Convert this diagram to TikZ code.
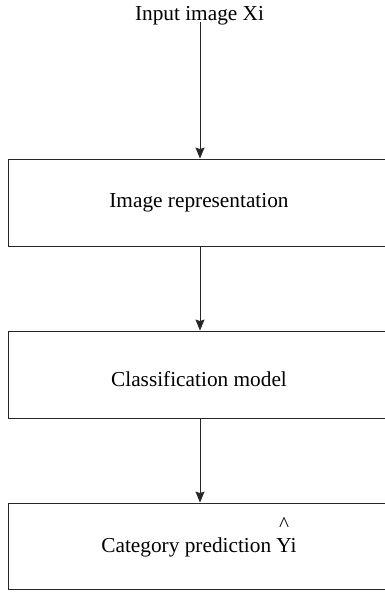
\documentclass[tikz,border=0pt]{standalone}
\usepackage{fontspec}
\setmainfont{Liberation Serif}
\usetikzlibrary{arrows.meta}
\begin{document}
\begin{tikzpicture}[x=1pt,y=-1pt,
  stagebox/.style={draw=black!85,line width=0.9pt,minimum width=382pt,
    inner sep=0pt,text height=0.7em,text depth=0.2em,
    font=\fontsize{21.3}{25}\selectfont},
  flow/.style={draw=black!85,line width=0.9pt,
    -{Stealth[length=11pt,width=9pt,inset=1.5pt]}},
  caption/.style={inner sep=0pt,font=\fontsize{21.3}{25}\selectfont}]
  \useasboundingbox (0,0) rectangle (385,594);
  \begin{scope}
    \clip (0,0) rectangle (385,594);
    % input label
    \node[caption,anchor=base] (in) at (199.5,21) {Input image Xi};
    % processing stages
    \node[stagebox,minimum height=87pt] (rep) at (199,202.5)
      {\raisebox{-2pt}{Image representation}};
    \node[stagebox,minimum height=87pt] (cls) at (199,374.5)
      {\raisebox{-9pt}{Classification model}};
    \node[stagebox,minimum height=86pt] (out) at (199,546)
      {\raisebox{-4pt}{Category prediction
        {\rlap{\raisebox{1.0em}{\kern0.13em\textasciicircum}}Y}i}};
    % connectors
    \coordinate (start) at (200,22);
    \draw[flow] (start) -- (start |- rep.north);
    \draw[flow] (start |- rep.south) -- (start |- cls.north);
    \draw[flow] (start |- cls.south) -- (start |- out.north);
  \end{scope}
\end{tikzpicture}
\end{document}
